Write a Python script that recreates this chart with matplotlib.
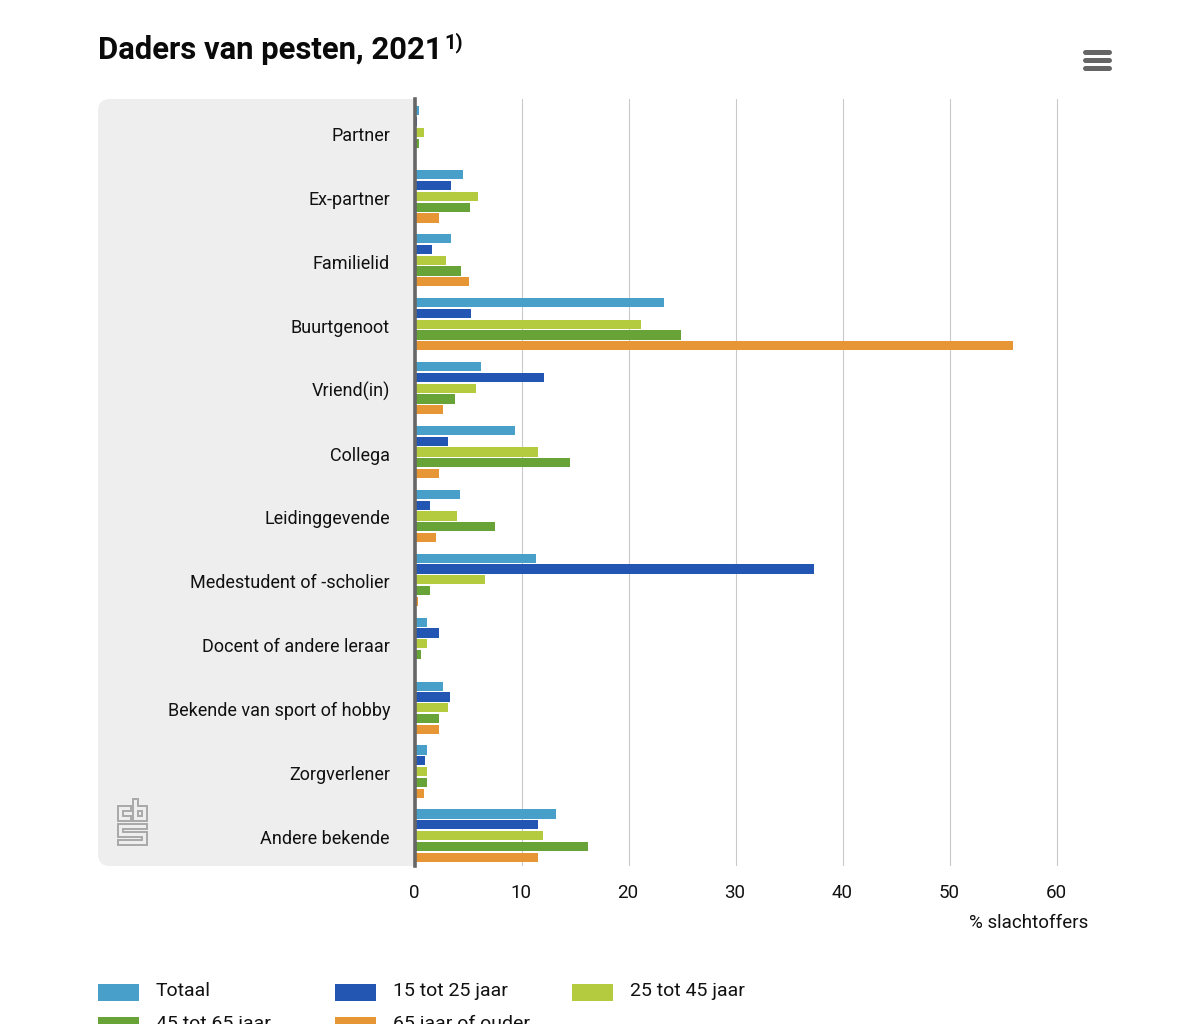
# -*- coding: utf-8 -*-

import numpy as np
import matplotlib
matplotlib.use("Agg")
import matplotlib.pyplot as plt
from matplotlib.patches import FancyBboxPatch, Rectangle
from matplotlib.transforms import ScaledTranslation

plt.rcParams["font.family"] = ["Roboto", "DejaVu Sans"]

W, H = 1183, 1024

categories = ["Partner", "Ex-partner", "Familielid", "Buurtgenoot", "Vriend(in)", "Collega",
              "Leidinggevende", "Medestudent of -scholier", "Docent of andere leraar",
              "Bekende van sport of hobby", "Zorgverlener", "Andere bekende"]

totaal = [0.4, 4.5, 3.4, 23.3, 6.2, 9.3, 4.2, 11.3, 1.1, 2.6, 1.1, 13.2]
jaar_15_25 = [0.2, 3.4, 1.6, 5.2, 12.1, 3.1, 1.4, 37.3, 2.2, 3.3, 0.9, 11.5]
jaar_25_45 = [0.8, 5.9, 2.9, 21.1, 5.7, 11.5, 3.9, 6.5, 1.1, 3.1, 1.1, 12.0]
jaar_45_65 = [0.4, 5.1, 4.3, 24.9, 3.7, 14.5, 7.5, 1.4, 0.6, 2.2, 1.1, 16.2]
jaar_65_plus = [0.0, 2.2, 5.0, 55.9, 2.6, 2.2, 2.0, 0.3, 0.0, 2.2, 0.8, 11.5]

series = [totaal, jaar_15_25, jaar_25_45, jaar_45_65, jaar_65_plus]
names = ["Totaal", "15 tot 25 jaar", "25 tot 45 jaar", "45 tot 65 jaar", "65 jaar of ouder"]
colors = ["#479fca", "#2356b3", "#b4cb3f", "#68a338", "#e79635"]
x_ticks = [0, 10, 20, 30, 40, 50, 60]

fig = plt.figure(figsize=(W / 100, H / 100), dpi=100)

# achtergrond in pixels, zelfde assenstelsel als het plaatje
bg = fig.add_axes([0, 0, 1, 1], zorder=0)
bg.set_xlim(0, W)
bg.set_ylim(H, 0)
bg.axis("off")
bg.add_patch(FancyBboxPatch((110, 111), 380, 743, boxstyle="round,pad=12",
                            fc="#eeeeee", ec="none"))
bg.add_patch(Rectangle((415, 90), 300, 790, fc="white", ec="none"))

# cbs logo
logo = [
    [(131, 806), (118, 806), (118, 821), (131, 821), (131, 816), (123, 816), (123, 811), (131, 811), (131, 806)],
    [(133, 799), (138, 799), (138, 806), (147, 806), (147, 821), (133, 821), (133, 799)],
    [(138, 811), (142, 811), (142, 816), (138, 816), (138, 811)],
    [(147, 824), (118, 824), (118, 837), (142, 837), (142, 840), (118, 840), (118, 845), (147, 845),
     (147, 832), (123, 832), (123, 829), (147, 829), (147, 824)],
]
for part in logo:
    xs, ys = zip(*part)
    bg.plot(xs, ys, color="#a9a9a9", lw=1.4, solid_joinstyle="miter")

# menu icoon
for y in [52, 60, 68]:
    bg.plot([1085, 1109], [y, y], color="#666666", lw=3.6, solid_capstyle="round")

bg.text(98, 50, "Daders van pesten, 2021", fontsize=22.3, fontweight="bold", va="center", ha="left", color="#0a0a0a")
bg.text(444, 43, "1)", fontsize=14.5, fontweight="bold", va="center", ha="left", color="#0a0a0a")
bg.text(1088, 923, "% slachtoffers", fontsize=13.5, va="center", ha="right", color="#111111")

# legenda, valt onderaan deels buiten beeld
leg_x = [98, 335, 572, 98, 335]
leg_y = [984, 984, 984, 1017, 1017]
for i, name in enumerate(names):
    bg.add_patch(Rectangle((leg_x[i], leg_y[i]), 41, 17, fc=colors[i], ec="none"))
    bg.text(leg_x[i] + 58, leg_y[i] + 7, name, fontsize=14, va="center", ha="left", color="#111111")

# grafiek
ax = fig.add_axes([415 / W, 1 - 866 / H, (1067 - 415) / W, (866 - 99) / H], zorder=1)
ax.patch.set_alpha(0)
ypos = np.arange(len(categories))
step = 10.8 / 63.9
height = 9.2 / 63.9
shift = 1.5 / 63.9
for i, (vals, col) in enumerate(zip(series, colors)):
    ax.barh(ypos + (i - 2) * step + shift, vals, height=height, color=col, zorder=3)

ax.set_xlim(0, 60 * (1067 - 415) / (1057 - 415))
ax.set_ylim(len(categories) - 0.5, -0.5)
ax.set_yticks(ypos, categories)
ax.set_xticks(x_ticks, [str(v) for v in x_ticks])
ax.tick_params(axis="y", length=0, pad=18, labelsize=13, labelcolor="#111111")
ax.tick_params(axis="x", length=0, pad=13, labelsize=13.5, labelcolor="#111111")
ax.grid(axis="x", color="#c9c9c9", lw=0.8, zorder=1)
ax.set_axisbelow(True)
for side in ["top", "right", "bottom"]:
    ax.spines[side].set_visible(False)
ax.spines["left"].set_color("#666666")
ax.spines["left"].set_linewidth(2.6)
ax.spines["left"].set_zorder(5)
down = ScaledTranslation(0, -3 / 100, fig.dpi_scale_trans)
for lab in ax.get_yticklabels():
    lab.set_transform(lab.get_transform() + down)
left = ScaledTranslation(-1 / 100, 0, fig.dpi_scale_trans)
for lab in ax.get_xticklabels():
    lab.set_transform(lab.get_transform() + left)

fig.savefig("out.png", dpi=100)
